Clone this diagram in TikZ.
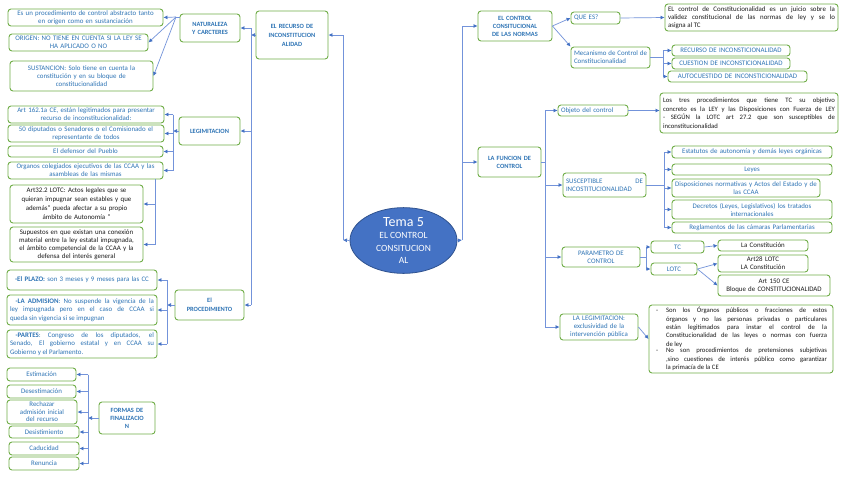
\documentclass[tikz,border=0pt]{standalone}
\usepackage{fontspec}
\setmainfont{Carlito}
\usetikzlibrary{shapes.geometric,arrows.meta,calc}
\definecolor{gr}{HTML}{70AD47}
\definecolor{tblue}{HTML}{2E74B5}
\definecolor{lb}{HTML}{7393DA}
\definecolor{ab}{HTML}{4472C4}
\definecolor{ell}{HTML}{4472C4}
\definecolor{elld}{HTML}{2F528F}
\definecolor{tdark}{HTML}{1A1A1A}
\hyphenpenalty=10000
\exhyphenpenalty=10000
\newcommand\bx[7]{%
  \pgfmathsetmacro\bw{#4-#2}\pgfmathsetmacro\bh{#5-#3}%
  \pgfmathsetmacro\bcx{(#2+#4)/2}\pgfmathsetmacro\bcy{(#3+#5)/2}%
  \pgfmathsetmacro\btw{#4-#2-6}%
  \node[box,minimum width=\bw pt,minimum height=\bh pt,text width=\btw pt,#6] (#1) at (\bcx,\bcy) {#7};}
\newcommand\bulitem[2]{\noindent\makebox[13pt][l]{\hspace{3pt}-}\parbox[t]{#1}{#2}\par}
\tikzset{
  box/.style={draw=gr, line width=0.9pt, rounded corners=3pt, fill=white, inner xsep=3pt, inner ysep=0.5pt, font=\fontsize{6.9}{8}\selectfont},
  tb/.style={text=tblue, align=center},
  tbj/.style={text=tblue, align=justify},
  tk/.style={text=tdark, align=center},
  tkj/.style={text=tdark, align=justify},
  hd/.style={text=tblue, align=center, font=\fontsize{6.4}{8}\selectfont\bfseries},
  ln/.style={draw=lb, line width=0.7pt},
  arr/.style={draw=lb, line width=0.7pt, -{Latex[length=4pt,width=4pt,color=ab]}},
}
\begin{document}
\begin{tikzpicture}[x=1pt,y=-1pt]
\useasboundingbox (0,0) rectangle (848,477);
\fill[white] (0,0) rectangle (848,477);

% centre
\node[ellipse, fill=ell, draw=elld, line width=0.8pt, minimum width=107pt, minimum height=65pt, inner sep=0pt, text=white, align=center, font=\fontsize{9.5}{12.5}\selectfont] (tema) at (403.5,240.5) {{\fontsize{14}{14}\selectfont Tema 5}\\EL CONTROL\\CONSITUCION\\AL};

% left side
\bx{rec}{256}{11}{328}{59}{hd, font=\fontsize{6.4}{9}\selectfont\bfseries}{EL RECURSO DE\\INCONSTITUCION\\ALIDAD}
\bx{nat}{180}{14}{240}{42}{hd}{NATURALEZA\\Y CARCTERES}
\bx{leg}{179}{117}{240}{145}{hd}{LEGIMITACION}
\bx{proc}{175}{290}{244}{320}{hd, font=\fontsize{6.4}{9}\selectfont\bfseries}{El\\PROCEDIMIENTO}

\bx{n1}{8}{9}{163}{26}{tb}{Es un procedimiento de control abstracto tanto\\en origen como en sustanciación}
\bx{n2}{9}{34}{148}{51}{tb}{ORIGEN: NO TIENE EN CUENTA SI LA LEY SE\\HA APLICADO O NO}
\bx{n3}{10}{61}{153}{91}{tb}{SUSTANCION: Solo tiene en cuenta la\\constitución y en su bloque de\\constitucionalidad}

\bx{l1}{8}{106}{164}{123}{tb}{Art 162.1a CE, están legitimados para presentar\\recurso de inconstitucionalidad:}
\bx{l2}{8}{125}{164}{142}{tb}{50 diputados o Senadores o el Comisionado el\\representante de todos}
\bx{l3}{8}{146}{163}{157}{tb}{El defensor del Pueblo}
\bx{l4}{8}{162}{163}{179}{tb}{Organos colegiados ejecutivos de las CCAA y las\\asambleas de las mismas}
\bx{l5}{10}{185}{143}{223}{tk, font=\fontsize{6.9}{9}\selectfont}{Art32.2 LOTC: Actos legales que se\\quieran impugnar sean estables y que\\además" pueda afectar a su propio\\ámbito de Autonomía "}
\bx{l6}{10}{227}{143}{262}{tk}{Supuestos en que existan una conexión\\material entre la ley estatal impugnada,\\el ámbito competencial de la CCAA y la\\defensa del interés general}

\bx{p1}{7}{270}{157}{290}{tb}{\textbf{-El PLAZO:} son 3 meses y 9 meses para las CC}
\bx{p2}{7}{295}{157}{325}{tbj, font=\fontsize{6.9}{8.5}\selectfont}{\hspace*{0.8em}\textbf{-LA ADMISION}: No suspende la vigencia de la\linebreak ley impugnada pero en el caso de CCAA si\linebreak queda sin vigencia si se impugnan}
\bx{p3}{7}{330}{157}{358}{tbj, font=\fontsize{6.9}{8.5}\selectfont}{\hspace*{0.8em}\textbf{-PARTES}: Congreso de los diputados, el\linebreak Senado, El gobierno estatal y en CCAA su\linebreak Gobierno y el Parlamento.}

\bx{fin}{99}{402}{155}{434}{hd}{FORMAS DE\\FINALIZACIO\\N}
\bx{f1}{7}{368}{76}{381}{tb}{Estimación}
\bx{f2}{7}{385}{76}{398}{tb}{Desestimación}
\bx{f3}{7}{400}{77}{424}{tb, font=\fontsize{6.9}{7.5}\selectfont}{Rechazar\\admisión inicial\\del recurso}
\bx{f4}{9}{426}{79}{438}{tb}{Desistimiento}
\bx{f5}{9}{442}{79}{455}{tb}{Caducidad}
\bx{f6}{9}{457}{79}{470}{tb}{Renuncia}

% right side
\bx{ctrl}{478}{11}{552}{41}{hd}{EL CONTROL\\CONSITUCIONAL\\DE LAS NORMAS}
\bx{func}{478}{147}{541}{177}{hd}{LA FUNCION DE\\CONTROL}
\bx{que}{571}{12}{620}{24}{tb, align=left}{QUE ES?}
\bx{def}{665}{4}{838}{31}{tkj}{EL control de Constitucionalidad es un juicio sobre la\linebreak validez constitucional de las normas de ley y se lo\linebreak asigna al TC}
\bx{mec}{571}{47}{650}{68}{tbj}{Mecanismo de Control de Constitucionalidad}
\bx{m1}{672}{45}{790}{56}{tb}{RECURSO DE INCONSTICIONALIDAD}
\bx{m2}{672}{58}{790}{69}{tb}{CUESTION DE INCONSTICIONALIDAD}
\bx{m3}{668}{71}{807}{82}{tb}{AUTOCUESTIDO DE INCONSTICIONALIDAD}

\bx{obj}{558}{105}{628}{116}{tb, align=left}{Objeto del control}
\bx{objd}{660}{93}{838}{133}{tkj, font=\fontsize{6.7}{8.5}\selectfont}{Los tres procedimientos que tiene TC su objetivo\linebreak concreto es la LEY y las Disposiciones con Fuerza de LEY\linebreak - SEGÚN la LOTC art 27.2 que son susceptibles de\linebreak inconstitucionalidad}
\bx{sus}{563}{173}{646}{197}{tb, align=left}{SUSCEPTIBLE\hfill DE\\INCOSTITUCIONALIDAD}
\bx{s1}{672}{146}{832}{158}{tb}{Estatutos de autonomía y demás leyes orgánicas}
\bx{s2}{672}{164}{832}{175}{tb}{Leyes}
\bx{s3}{672}{179}{820}{197}{tb}{Disposiciones normativas y Actos del Estado y de\\las CCAA}
\bx{s4}{672}{200}{832}{219}{tb}{Decretos (Leyes, Legislativos) los tratados\\internacionales}
\bx{s5}{672}{222}{832}{233}{tb}{Reglamentos de las cámaras Parlamentarias}

\bx{par}{562}{247}{640}{267}{tb}{PARAMETRO DE\\CONTROL}
\bx{tc}{651}{241}{704}{253}{tb}{TC}
\bx{lotc}{651}{263}{697}{275}{tb}{LOTC}
\bx{con}{718}{240}{808}{251}{tk}{La Constitución}
\bx{a28}{718}{255}{808}{272}{tk}{Art28 LOTC\\LA Constitución}
\bx{a150}{718}{275}{830}{296}{tk}{Art 150 CE\\Bloque de CONSTITUCIONALIDAD}

\bx{legi}{560}{314}{638}{340}{tb, font=\fontsize{6.9}{8}\selectfont}{LA LEGIMITACION:\\exclusividad de la\\intervención pública}
\bx{ld}{650}{305}{832}{373}{tkj, font=\fontsize{6.7}{8.3}\selectfont, inner xsep=4pt}{%
\bulitem{161pt}{Son los Órganos públicos o fracciones de estos\linebreak órganos y no las personas privadas o particulares\linebreak están legitimados para instar el control de la\linebreak Constitucionalidad de las leyes o normas con fuerza\linebreak de ley}%
\bulitem{161pt}{No son procedimientos de pretensiones subjetivas\linebreak ,sino cuestiones de interés público como garantizar\linebreak la primacía de la CE}}

% ---------- connectors: left
\coordinate (tl) at (343,240);
\draw[arr] (tema.west) -- (tl);
\draw[arr] (tl) |- (rec.east);

\coordinate (rv) at (251,0);
\draw[arr] (rec.west) -- (rec.west -| rv);
\draw[ln] (nat.east -| rv) -- (proc.east -| rv);
\draw[arr] (nat.east -| rv) -- (nat.east);
\draw[arr] (leg.east -| rv) -- (leg.east);
\draw[arr] (proc.east -| rv) -- (proc.east);

\coordinate (nf) at (176,17);
\draw[ln] (nat.west |- nf) -- (nf);
\draw[arr] (nf) -- (n1.east);
\draw[arr] (nf) -- (n2.east);
\draw[arr] (nf) -- (n3.east);

\coordinate (lv) at (173,0);
\draw[arr] (leg.west) -- (leg.west -| lv);
\draw[ln] (l1.east -| lv) -- (l4.east -| lv);
\foreach \n in {l1,l2,l3,l4} \draw[arr] (\n.east -| lv) -- (\n.east);

\coordinate (lw) at (155,0);
\draw[ln] (l4.south -| lw) -- (l6.east -| lw);
\draw[arr] (l5.east -| lw) -- (l5.east);
\draw[arr] (l6.east -| lw) -- (l6.east);

\coordinate (pv) at (167,0);
\draw[arr] (proc.west) -- (proc.west -| pv);
\draw[ln] (p1.east -| pv) -- (p3.east -| pv);
\foreach \n in {p1,p2,p3} \draw[arr] (\n.east -| pv) -- (\n.east);

\coordinate (fv) at (88,0);
\draw[arr] (fin.west) -- (fin.west -| fv);
\draw[ln] (f1.east -| fv) -- (f6.east -| fv);
\foreach \n in {f1,f2,f3,f4,f5,f6} \draw[arr] (\n.east -| fv) -- (\n.east);

% ---------- connectors: right
\coordinate (tr) at (462,240);
\draw[arr] (tema.east) -- (tr);
\draw[ln] (tr) -- (tr |- ctrl.west);
\draw[arr] (tr |- ctrl.west) -- (ctrl.west);
\draw[arr] (tr |- func.west) -- (func.west);

\draw[arr] (ctrl.east) -- (que.west);
\draw[arr] (ctrl.east) -- (mec.north west);
\draw[arr] (que.east) -- (def.west);
\coordinate (mv) at (663,0);
\draw[ln] (mec.east) -- (mec.east -| mv);
\draw[ln] (m1.west -| mv) -- (m3.west -| mv);
\foreach \n in {m1,m2,m3} \draw[arr] (\n.west -| mv) -- (\n.west);

\coordinate (fr) at (545,0);
\draw[ln] (func.east) -- (func.east -| fr);
\draw[ln] (obj.west -| fr) -- (legi.west -| fr);
\foreach \n in {obj,sus,par,legi} \draw[arr] (\n.west -| fr) -- (\n.west);
\draw[arr] (obj.east) -- (obj.east -| objd.west);

\coordinate (sv) at (664,0);
\draw[ln] (sus.east) -- (sus.east -| sv);
\draw[ln] (s1.west -| sv) -- (s5.west -| sv);
\foreach \n in {s1,s2,s3,s4,s5} \draw[arr] (\n.west -| sv) -- (\n.west);

\coordinate (pw) at (646,0);
\draw[ln] (par.east) -- (par.east -| pw);
\draw[ln] (tc.west -| pw) -- (lotc.west -| pw);
\draw[arr] (tc.west -| pw) -- (tc.west);
\draw[arr] (lotc.west -| pw) -- (lotc.west);
\draw[arr] (tc.east) -- (con.west);
\draw[arr] (lotc.east) -- (a28.west);
\draw[arr] (lotc.east) -- (a150.west);
\draw[arr] (legi.east) -- (ld.west);
\end{tikzpicture}
\end{document}
